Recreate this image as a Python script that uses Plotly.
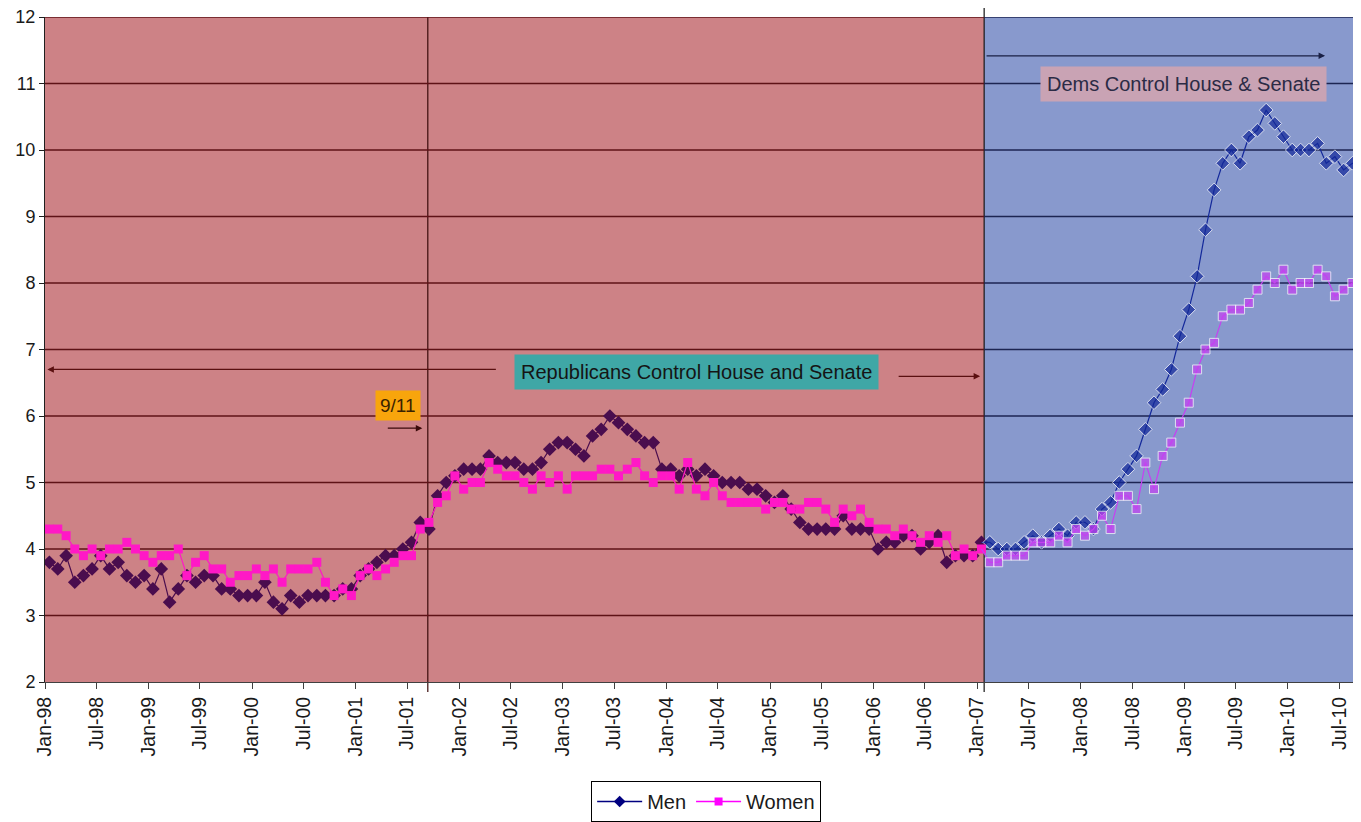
import plotly.graph_objects as go
import pandas as pd

# ---------------- data ----------------
start_month = "1998-01-01"
n_months = 153  # Jan-98 .. Sep-10
months = pd.date_range(start_month, periods=n_months, freq="MS")

men = [
    3.8, 3.7, 3.9, 3.5, 3.6, 3.7, 3.9, 3.7, 3.8, 3.6, 3.5, 3.6,   # 1998
    3.4, 3.7, 3.2, 3.4, 3.6, 3.5, 3.6, 3.6, 3.4, 3.4, 3.3, 3.3,   # 1999
    3.3, 3.5, 3.2, 3.1, 3.3, 3.2, 3.3, 3.3, 3.3, 3.3, 3.4, 3.4,   # 2000
    3.6, 3.7, 3.8, 3.9, 3.9, 4.0, 4.1, 4.4, 4.3, 4.8, 5.0, 5.1,   # 2001
    5.2, 5.2, 5.2, 5.4, 5.3, 5.3, 5.3, 5.2, 5.2, 5.3, 5.5, 5.6,   # 2002
    5.6, 5.5, 5.4, 5.7, 5.8, 6.0, 5.9, 5.8, 5.7, 5.6, 5.6, 5.2,   # 2003
    5.2, 5.1, 5.2, 5.1, 5.2, 5.1, 5.0, 5.0, 5.0, 4.9, 4.9, 4.8,   # 2004
    4.7, 4.8, 4.6, 4.4, 4.3, 4.3, 4.3, 4.3, 4.5, 4.3, 4.3, 4.3,   # 2005
    4.0, 4.1, 4.1, 4.2, 4.2, 4.0, 4.1, 4.2, 3.8, 3.9, 3.9, 3.9,   # 2006
    4.1, 4.1, 4.0, 4.0, 4.0, 4.1, 4.2, 4.1, 4.2, 4.3, 4.2, 4.4,   # 2007
    4.4, 4.3, 4.6, 4.7, 5.0, 5.2, 5.4, 5.8, 6.2, 6.4, 6.7, 7.2,   # 2008
    7.6, 8.1, 8.8, 9.4, 9.8, 10.0, 9.8, 10.2, 10.3, 10.6, 10.4, 10.2,  # 2009
    10.0, 10.0, 10.0, 10.1, 9.8, 9.9, 9.7, 9.8, 9.8,               # 2010
]

women = [
    4.3, 4.3, 4.2, 4.0, 3.9, 4.0, 3.9, 4.0, 4.0, 4.1, 4.0, 3.9,   # 1998
    3.8, 3.9, 3.9, 4.0, 3.6, 3.8, 3.9, 3.7, 3.7, 3.5, 3.6, 3.6,   # 1999
    3.7, 3.6, 3.7, 3.5, 3.7, 3.7, 3.7, 3.8, 3.5, 3.3, 3.4, 3.3,   # 2000
    3.6, 3.7, 3.6, 3.7, 3.8, 3.9, 3.9, 4.3, 4.4, 4.7, 4.8, 5.1,   # 2001
    4.9, 5.0, 5.0, 5.3, 5.2, 5.1, 5.1, 5.0, 4.9, 5.1, 5.0, 5.1,   # 2002
    4.9, 5.1, 5.1, 5.1, 5.2, 5.2, 5.1, 5.2, 5.3, 5.1, 5.0, 5.1,   # 2003
    5.1, 4.9, 5.3, 4.9, 4.8, 5.0, 4.8, 4.7, 4.7, 4.7, 4.7, 4.6,   # 2004
    4.7, 4.7, 4.6, 4.6, 4.7, 4.7, 4.6, 4.4, 4.6, 4.5, 4.6, 4.4,   # 2005
    4.3, 4.3, 4.2, 4.3, 4.2, 4.1, 4.2, 4.1, 4.2, 3.9, 4.0, 3.9,   # 2006
    4.0, 3.8, 3.8, 3.9, 3.9, 3.9, 4.1, 4.1, 4.1, 4.2, 4.1, 4.3,   # 2007
    4.2, 4.3, 4.5, 4.3, 4.8, 4.8, 4.6, 5.3, 4.9, 5.4, 5.6, 5.9,   # 2008
    6.2, 6.7, 7.0, 7.1, 7.5, 7.6, 7.6, 7.7, 7.9, 8.1, 8.0, 8.2,   # 2009
    7.9, 8.0, 8.0, 8.2, 8.1, 7.8, 7.9, 8.0, 8.0,                   # 2010
]

split_idx = 108            # Jan-07: last month of the Republican period
sept11 = "2001-09-12"
dems_start = "2007-01-26"
x_end = "2010-09-16"

# ---------------- styling ----------------
FONT = "Liberation Sans, Arial, sans-serif"
RED_BG = "#CD8286"
BLUE_BG = "#8899CD"
RED_GRID = "#5E1216"
BLUE_GRID = "#1C2552"
MEN_RED = "#4A0D4E"
MEN_BLUE = "#13289A"
WOMEN_RED = "#FF18C6"
WOMEN_BLUE = "#C640F2"

period_kw = dict(xperiod="M1", xperiod0=start_month, xperiodalignment="middle")
DSZ, SSZ = 10.5, 9

fig = go.Figure()

n_blue = n_months - split_idx
fig.add_trace(go.Scatter(
    x=months[:split_idx + 1], y=men[:split_idx + 1], mode="lines+markers",
    line=dict(color=MEN_RED, width=1.2), marker=dict(symbol="diamond", size=DSZ, color=MEN_RED),
    showlegend=False, hoverinfo="skip", **period_kw))
fig.add_trace(go.Scatter(
    x=months[split_idx:], y=men[split_idx:], mode="lines+markers",
    line=dict(color=MEN_BLUE, width=1.2),
    marker=dict(symbol="diamond", size=[0] + [DSZ] * (n_blue - 1), color=MEN_BLUE),
    showlegend=False, hoverinfo="skip", **period_kw))
fig.add_trace(go.Scatter(
    x=months[:split_idx + 1], y=women[:split_idx + 1], mode="lines+markers",
    line=dict(color=WOMEN_RED, width=1.2), marker=dict(symbol="square", size=SSZ, color=WOMEN_RED),
    showlegend=False, hoverinfo="skip", **period_kw))
fig.add_trace(go.Scatter(
    x=months[split_idx:], y=women[split_idx:], mode="lines+markers",
    line=dict(color=WOMEN_BLUE, width=1.2),
    marker=dict(symbol="square", size=[0] + [SSZ] * (n_blue - 1), color=WOMEN_BLUE),
    showlegend=False, hoverinfo="skip", **period_kw))

# legend entries
fig.add_trace(go.Scatter(x=[None], y=[None], mode="lines+markers", name="Men",
                         line=dict(color="#000080", width=1.5),
                         marker=dict(symbol="diamond", size=9, color="#000080")))
fig.add_trace(go.Scatter(x=[None], y=[None], mode="lines+markers", name="Women",
                         line=dict(color="#FF00FF", width=1.5),
                         marker=dict(symbol="square", size=8, color="#FF00FF")))

# ---------------- shapes ----------------
shapes = [
    dict(type="rect", xref="x", yref="paper", x0=start_month, x1=dems_start, y0=0, y1=1,
         fillcolor=RED_BG, line=dict(width=0), layer="below"),
    dict(type="rect", xref="x", yref="paper", x0=dems_start, x1=x_end, y0=0, y1=1,
         fillcolor=BLUE_BG, line=dict(width=0), layer="below"),
]
for v in range(3, 13):
    shapes.append(dict(type="line", xref="x", yref="y", x0=start_month, x1=dems_start, y0=v, y1=v,
                       line=dict(color=RED_GRID, width=1.3), layer="below"))
    shapes.append(dict(type="line", xref="x", yref="y", x0=dems_start, x1=x_end, y0=v, y1=v,
                       line=dict(color=BLUE_GRID, width=1.3), layer="below"))
shapes.append(dict(type="line", xref="x", yref="paper", x0=sept11, x1=sept11, y0=-0.015, y1=1,
                   line=dict(color="#3A0A0A", width=1.2), layer="below"))
shapes.append(dict(type="line", xref="x", yref="paper", x0=dems_start, x1=dems_start, y0=-0.015, y1=1.0135,
                   line=dict(color="#151515", width=1.2), layer="below"))

# ---------------- annotations ----------------
def arrow(x, y, ax, color):
    return dict(xref="paper", yref="paper", x=x, y=y, ax=ax, ay=0, text="", showarrow=True,
                arrowhead=2, arrowsize=1, arrowwidth=1.3, arrowcolor=color)

def label(x, y, text, bg, color, size, pad):
    return dict(xref="paper", yref="paper", x=x, y=y, xanchor="center", yanchor="middle",
                text=text, showarrow=False, bgcolor=bg, borderpad=pad,
                font=dict(family=FONT, size=size, color=color))

annotations = [
    label(0.8648, 0.8997, "Dems Control House & Senate", "#C9A3B4", "#2B2B45", 20, 6),
    label(0.4948, 0.4663, "Republicans Control House and Senate", "#3FA7A6", "#151515", 20, 6),
    label(0.2685, 0.4154, "9/11", "#F8A50C", "#3A2200", 19, 4),
    arrow(0.0018, 0.470, 450, "#5A1010"),
    arrow(0.7106, 0.4596, -83, "#5A1010"),
    arrow(0.9727, 0.9416, -340, "#1A2045"),
    arrow(0.2867, 0.3817, -36, "#3A0A0A"),
]

# the page places the figure 8px in from the top-left corner; size/margins compensate
fig.update_layout(
    width=1353, height=814, autosize=False,
    margin=dict(l=37, r=0, t=9, b=137),
    paper_bgcolor="white", plot_bgcolor="white",
    font=dict(family=FONT, size=18, color="#1A1A1A"),
    shapes=shapes, annotations=annotations,
    showlegend=True,
    legend=dict(orientation="h", x=0.5024, xanchor="center", y=-0.1497, yanchor="top",
                bordercolor="#000000", borderwidth=1, bgcolor="white", itemwidth=45,
                font=dict(family=FONT, size=20, color="#1A1A1A")),
    xaxis=dict(type="date", range=[start_month, x_end], tick0=start_month, dtick="M6",
               tickformat="%b-%y", tickangle=-90, ticks="outside", ticklen=6,
               tickcolor="#404040", showline=True, linecolor="#404040", linewidth=1,
               showgrid=False, zeroline=False, automargin=False, ticklabeloverflow="allow",
               tickfont=dict(family=FONT, size=19.5, color="#1A1A1A")),
    yaxis=dict(range=[2, 12], dtick=1, ticks="outside", ticklen=5, tickcolor="#202020",
               showline=True, linecolor="#202020", linewidth=1, showgrid=False, zeroline=False,
               automargin=False, ticklabeloverflow="allow",
               tickfont=dict(family=FONT, size=18, color="#1A1A1A")),
)

fig.write_html("out.html")
